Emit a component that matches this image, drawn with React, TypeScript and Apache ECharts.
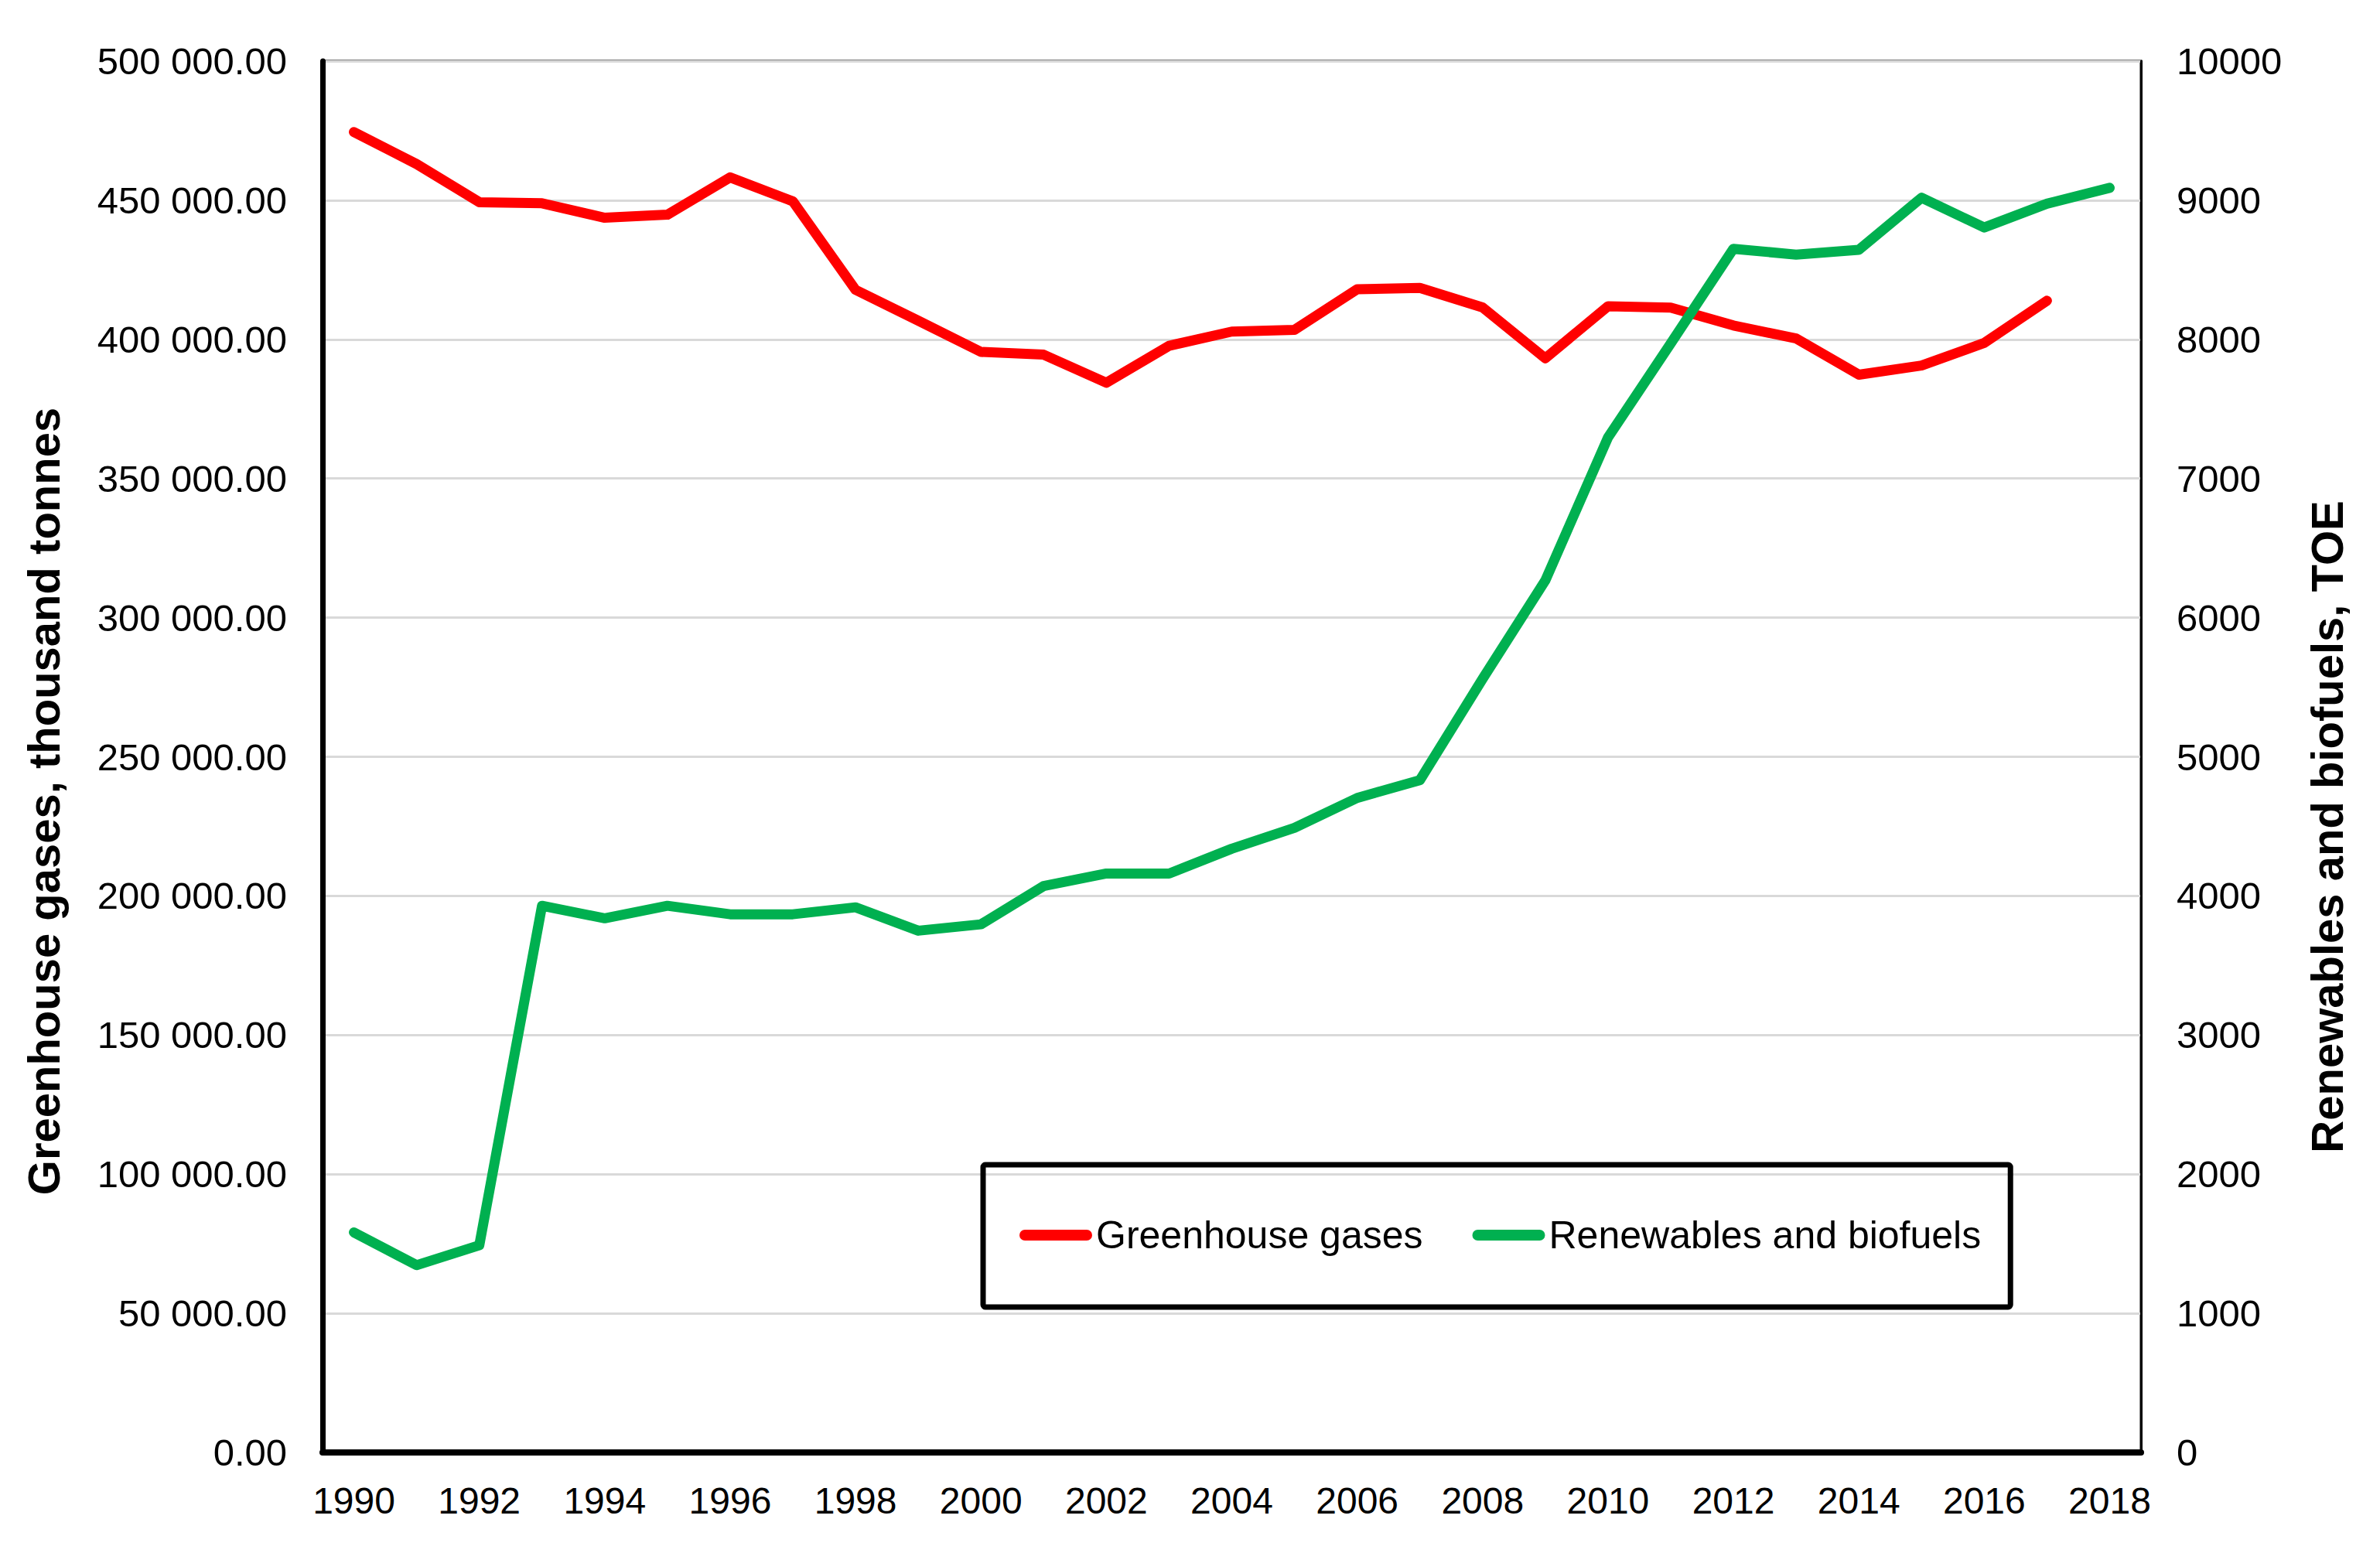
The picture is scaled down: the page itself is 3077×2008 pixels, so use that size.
import React, { useEffect, useRef } from "react";
import * as echarts from "echarts";

const years: string[] = [
  "1990", "1991", "1992", "1993", "1994", "1995", "1996", "1997", "1998", "1999",
  "2000", "2001", "2002", "2003", "2004", "2005", "2006", "2007", "2008", "2009",
  "2010", "2011", "2012", "2013", "2014", "2015", "2016", "2017", "2018",
];

const greenhouseGases: (number | null)[] = [
  474500, 463000, 449300, 448900, 443700, 444800, 458200, 449600, 417800, 406700,
  395500, 394500, 384400, 397700, 402800, 403400, 418000, 418500, 411500, 393200,
  411900, 411400, 405000, 400300, 387300, 390600, 398700, 413900, null,
];

const renewables: number[] = [
  1582, 1346, 1489, 3929, 3839, 3929, 3868, 3868, 3918, 3750,
  3796, 4071, 4161, 4161, 4339, 4489, 4704, 4832, 5560, 6267,
  7295, 7970, 8651, 8609, 8644, 9018, 8804, 8975, 9089,
];

const seriesNames = ["Greenhouse gases", "Renewables and biofuels"];
const leftAxisTitle = "Greenhouse gases, thousand tonnes";
const rightAxisTitle = "Renewables and biofuels, TOE";

const FONT = '"Liberation Sans", Arial, sans-serif';

function formatLeft(v: number): string {
  const fixed = v.toFixed(2);
  const [intPart, dec] = fixed.split(".");
  const grouped = intPart.replace(/\B(?=(\d{3})+(?!\d))/g, " ");
  return grouped + "." + dec;
}

export default function App() {
  const ref = useRef<HTMLDivElement>(null);

  useEffect(() => {
    if (!ref.current) return;
    const chart = echarts.init(ref.current, null, { renderer: "svg" });
    const capsule = "path://M7,0 H87 A7,7 0 0 1 87,14 H7 A7,7 0 0 1 7,0 Z";
    chart.setOption({
      animation: false,
      backgroundColor: "#ffffff",
      grid: {
        left: 417,
        right: 3077 - 2768,
        top: 79,
        bottom: 2008 - 1878,
        show: true,
        borderColor: "#000000",
        borderWidth: 3,
        containLabel: false,
      },
      legend: {
        left: 1271,
        top: 1506,
        orient: "horizontal",
        padding: [66, 38, 68, 47],
        itemGap: 64,
        itemWidth: 94,
        itemHeight: 14,
        borderColor: "#000000",
        borderWidth: 7,
        borderRadius: 3,
        textStyle: { fontSize: 50, color: "#000000", fontFamily: FONT },
        data: [
          { name: seriesNames[0], icon: capsule },
          { name: seriesNames[1], icon: capsule },
        ],
      },
      xAxis: {
        type: "category",
        data: years,
        boundaryGap: true,
        axisLine: { show: true, lineStyle: { color: "#000000", width: 8 } },
        axisTick: { show: false },
        axisLabel: {
          interval: 1,
          fontSize: 48,
          color: "#000000",
          fontFamily: FONT,
          margin: 38,
        },
        splitLine: { show: false },
      },
      yAxis: [
        {
          type: "value",
          min: 0,
          max: 500000,
          interval: 50000,
          position: "left",
          axisLine: { show: true, lineStyle: { color: "#000000", width: 7 } },
          axisTick: { show: false },
          axisLabel: {
            fontSize: 49,
            color: "#000000",
            fontFamily: FONT,
            margin: 46,
            formatter: (v: number) => formatLeft(v),
          },
          splitLine: { show: true, lineStyle: { color: "#d9d9d9", width: 3 } },
        },
        {
          type: "value",
          min: 0,
          max: 10000,
          interval: 1000,
          position: "right",
          axisLine: { show: true, lineStyle: { color: "#000000", width: 3 } },
          axisTick: { show: false },
          axisLabel: {
            fontSize: 49,
            color: "#000000",
            fontFamily: FONT,
            margin: 46,
            formatter: (v: number) => String(v),
          },
          splitLine: { show: false },
        },
      ],
      series: [
        {
          name: seriesNames[0],
          type: "line",
          yAxisIndex: 0,
          data: greenhouseGases,
          symbol: "none",
          connectNulls: false,
          color: "#ff0000",
          lineStyle: { color: "#ff0000", width: 13, cap: "round", join: "round" },
          z: 3,
        },
        {
          name: seriesNames[1],
          type: "line",
          yAxisIndex: 1,
          data: renewables,
          symbol: "none",
          color: "#00b050",
          lineStyle: { color: "#00b050", width: 13, cap: "round", join: "round" },
          z: 4,
        },
      ],
      graphic: [
        {
          type: "text",
          x: 56,
          y: 1036,
          rotation: Math.PI / 2,
          style: {
            text: leftAxisTitle,
            font: `bold 58px ${FONT}`,
            fill: "#000000",
            textAlign: "center",
            textVerticalAlign: "middle",
            align: "center",
            verticalAlign: "middle",
          },
        },
        {
          type: "text",
          x: 3008,
          y: 1069,
          rotation: Math.PI / 2,
          style: {
            text: rightAxisTitle,
            font: `bold 58px ${FONT}`,
            fill: "#000000",
            textAlign: "center",
            textVerticalAlign: "middle",
            align: "center",
            verticalAlign: "middle",
          },
        },
      ],
    });
    return () => chart.dispose();
  }, []);

  return (
    <div
      ref={ref}
      style={{ position: "absolute", left: 0, top: 0, width: 3077, height: 2008 }}
    />
  );
}
